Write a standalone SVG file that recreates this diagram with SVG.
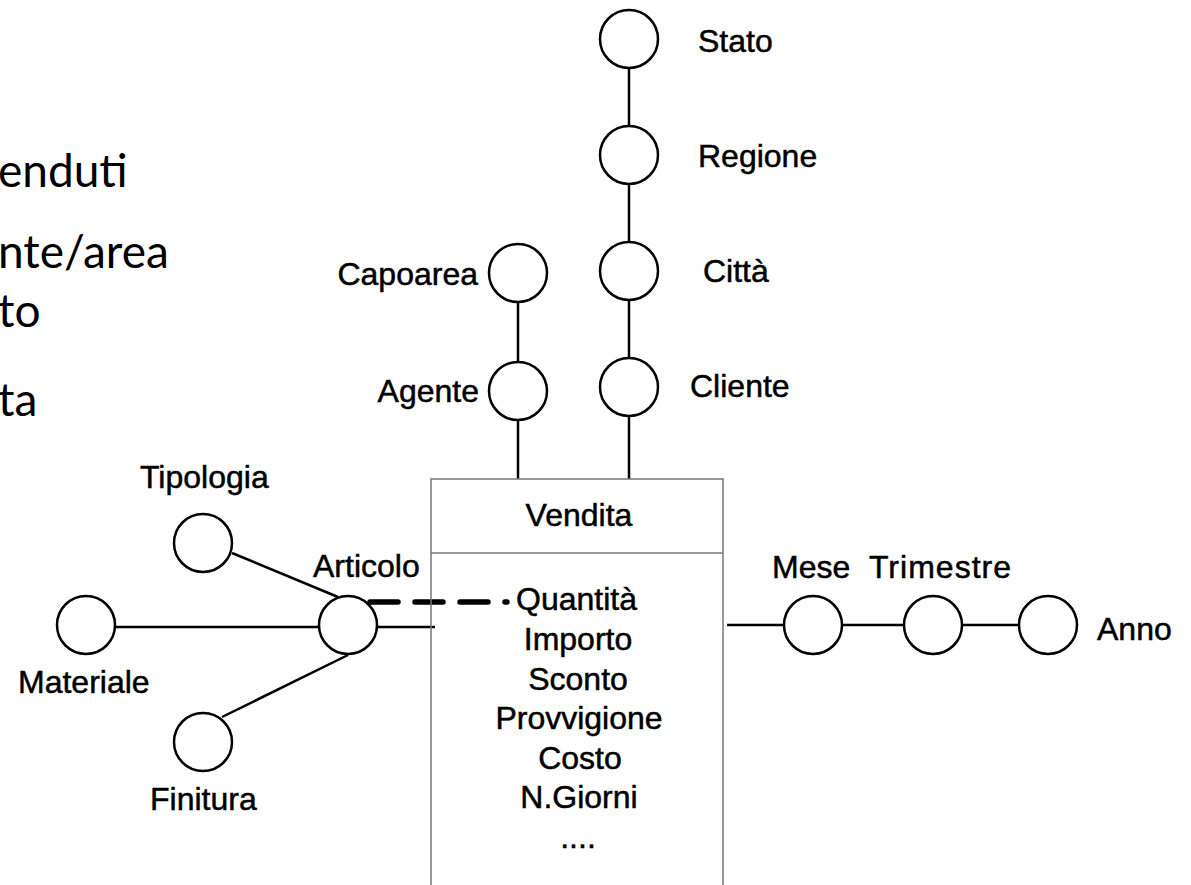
<svg xmlns="http://www.w3.org/2000/svg" width="1191" height="885" viewBox="0 0 1191 885">
  <style>
    .n { fill: #fff; stroke: #000; stroke-width: 2.5; }
    .c { stroke: #000; stroke-width: 2.5; fill: none; }
    .lbl { font-family: "Liberation Sans", Arial, sans-serif; font-size: 32px; fill: #000; stroke: #000; stroke-width: 0.5; }
    .big { font-family: Lato, "Open Sans", sans-serif; font-size: 46px; fill: #000; }
    .box { fill: none; stroke: #777; stroke-width: 1.5; }
  </style>
  <rect width="1191" height="885" fill="#fff"/>

  <g id="side-text">
    <text class="big" x="-2" y="187">enduti</text>
    <text class="big" x="-2" y="268">nte/area</text>
    <text class="big" x="-2" y="327">to</text>
    <text class="big" x="-2" y="416">ta</text>
  </g>

  <g id="connectors">
    <line class="c" x1="629" y1="67" x2="629" y2="125"/>
    <line class="c" x1="629" y1="184" x2="629" y2="241"/>
    <line class="c" x1="629" y1="300" x2="629" y2="357"/>
    <line class="c" x1="629" y1="416" x2="629" y2="479"/>
    <line class="c" x1="518" y1="302" x2="518" y2="361"/>
    <line class="c" x1="518" y1="420" x2="518" y2="479"/>
    <line class="c" x1="115" y1="627" x2="319" y2="627"/>
    <line class="c" x1="377" y1="627" x2="435" y2="627"/>
    <line class="c" x1="232" y1="553" x2="338" y2="597"/>
    <line class="c" x1="222" y1="717" x2="348" y2="655"/>
    <line x1="370" y1="602" x2="507" y2="602" stroke="#000" stroke-width="5.5" stroke-linecap="round" stroke-dasharray="28 17"/>
    <line class="c" x1="727" y1="625" x2="784" y2="625"/>
    <line class="c" x1="842" y1="625" x2="904" y2="625"/>
    <line class="c" x1="962" y1="625" x2="1019" y2="625"/>
  </g>

  <g id="vendita">
    <polyline class="box" points="431,885 431,479 723,479 723,885"/>
    <line class="box" x1="431" y1="553" x2="723" y2="553"/>
    <text class="lbl" x="579" y="526" text-anchor="middle">Vendita</text>
    <text class="lbl" x="516" y="610">Quantità</text>
    <text class="lbl" x="578" y="650" text-anchor="middle">Importo</text>
    <text class="lbl" x="578" y="690" text-anchor="middle">Sconto</text>
    <text class="lbl" x="579" y="729" text-anchor="middle">Provvigione</text>
    <text class="lbl" x="580" y="769" text-anchor="middle">Costo</text>
    <text class="lbl" x="579" y="808" text-anchor="middle">N.Giorni</text>
    <text class="lbl" x="578" y="848" text-anchor="middle">....</text>
  </g>

  <g id="stato"><circle class="n" cx="629" cy="39" r="29"/><text class="lbl" x="698" y="52">Stato</text></g>
  <g id="regione"><circle class="n" cx="629" cy="155" r="29"/><text class="lbl" x="698" y="167">Regione</text></g>
  <g id="citta"><circle class="n" cx="629" cy="271" r="29"/><text class="lbl" x="703" y="282">Città</text></g>
  <g id="cliente"><circle class="n" cx="629" cy="387" r="29"/><text class="lbl" x="690" y="397">Cliente</text></g>
  <g id="capoarea"><circle class="n" cx="518" cy="273" r="29"/><text class="lbl" x="478" y="285" text-anchor="end">Capoarea</text></g>
  <g id="agente"><circle class="n" cx="518" cy="391" r="29"/><text class="lbl" x="479" y="402" text-anchor="end">Agente</text></g>
  <g id="articolo"><circle class="n" cx="348" cy="625" r="29"/><text class="lbl" x="313" y="577">Articolo</text></g>
  <g id="tipologia"><circle class="n" cx="203" cy="543" r="29"/><text class="lbl" x="140" y="488">Tipologia</text></g>
  <g id="materiale"><circle class="n" cx="86" cy="625" r="29"/><text class="lbl" x="18" y="693">Materiale</text></g>
  <g id="finitura"><circle class="n" cx="203" cy="742" r="29"/><text class="lbl" x="150" y="810">Finitura</text></g>
  <g id="mese"><circle class="n" cx="813" cy="625" r="29"/><text class="lbl" x="772" y="578">Mese</text></g>
  <g id="trimestre"><circle class="n" cx="933" cy="625" r="29"/><text class="lbl" x="869" y="578" textLength="142" lengthAdjust="spacing">Trimestre</text></g>
  <g id="anno"><circle class="n" cx="1048" cy="625" r="29"/><text class="lbl" x="1097" y="640">Anno</text></g>
</svg>
